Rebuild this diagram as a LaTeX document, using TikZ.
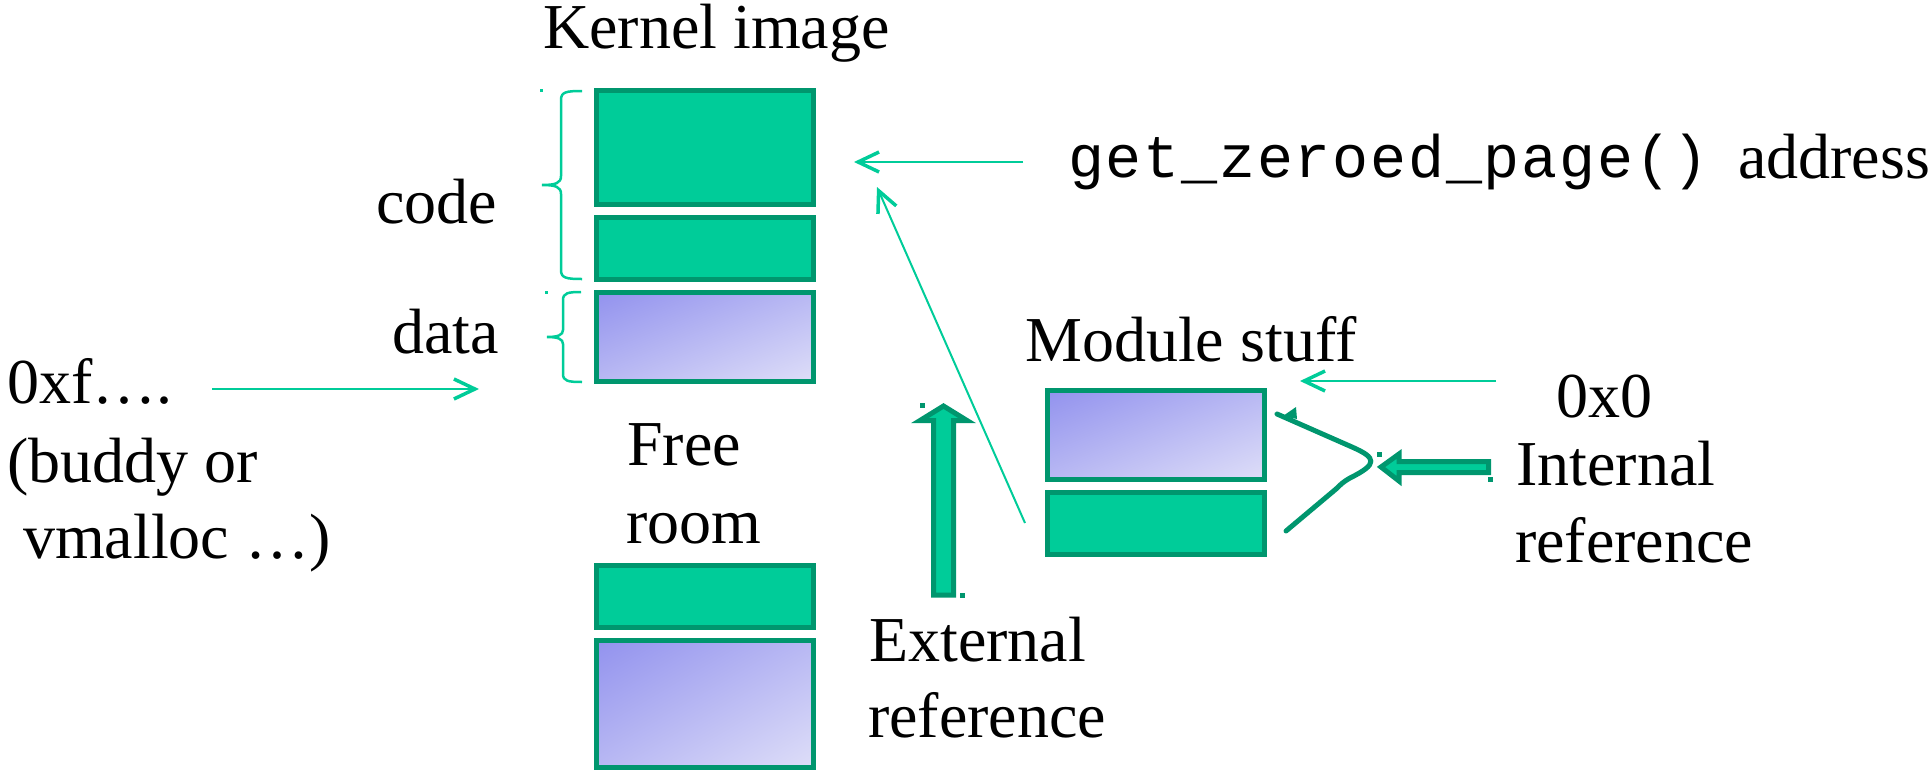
\documentclass[tikz,border=0pt]{standalone}
\usepackage{fontspec}
\setmainfont{Liberation Serif}
\newfontfamily\codefont[LetterSpace=3]{Liberation Mono}
\usetikzlibrary{arrows.meta,shadings}
\definecolor{gfill}{RGB}{0,204,153}
\definecolor{gdark}{RGB}{0,150,110}
\definecolor{gline}{RGB}{0,204,153}
\definecolor{bluA}{RGB}{146,146,238}
\definecolor{bluB}{RGB}{222,222,248}
\definecolor{bluM}{RGB}{184,184,243}
\begin{document}
\begin{tikzpicture}[x=1pt,y=-1pt,
  lbl/.style={anchor=base west, inner sep=0pt, font=\fontsize{64}{76}\selectfont},
  gbox/.style={draw=gdark, fill=gfill, line width=5pt, minimum width=217pt, inner sep=0pt},
  bbox/.style={draw=gdark, line width=5pt, minimum width=217pt, inner sep=0pt,
    upper left=bluA, lower right=bluB, upper right=bluM, lower left=bluM},
  thinarrow/.style={draw=gline, line width=2pt, -{Straight Barb[length=21pt,width=20pt,line width=3.5pt]}},
  bracepath/.style={draw=gline, line width=2.5pt},
  blockarrow/.style={draw=gdark, fill=gfill, line width=5pt, line join=miter},
  markdot/.style={fill=gdark},
  lightdot/.style={fill=gline}
]
\useasboundingbox (0,0) rectangle (1932,771);

% kernel image boxes
\node[gbox, minimum height=114pt] (k1) at (705,147.5) {};
\node[gbox, minimum height=62pt] (k2) at (705,248.5) {};
\node[bbox, minimum height=89pt] (k3) at (705,337) {};
\node[gbox, minimum height=62pt] (k4) at (705,596.5) {};
\node[bbox, minimum height=127pt] (k5) at (705,704) {};
% module boxes
\node[bbox, minimum height=89pt] (m1) at (1155.5,435) {};
\node[gbox, minimum height=62pt] (m2) at (1155.5,523.5) {};

% texts
\node[lbl] (kimg) at (543,48) {Kernel image};
\node[lbl] (code) at (376,223) {code};
\node[lbl] (data) at (392,353) {data};
\node[lbl] (oxf) at (7,403) {0xf….};
\node[lbl] (buddy) at (7,482) {(buddy or};
\node[lbl] (vmal) at (23,558) {vmalloc …)};
\node[lbl] (free) at (627,465) {Free};
\node[lbl] (room) at (626,543) {room};
\node[lbl] (ext) at (869,661) {External};
\node[lbl] (extref) at (868,737) {reference};
\node[lbl] (mod) at (1025,361) {Module stuff};
\node[lbl] (oxo) at (1556,417) {0x0};
\node[lbl] (int) at (1516,485) {Internal};
\node[lbl] (intref) at (1515,562) {reference};
\node[lbl, font={\codefont\fontsize{60}{70}\selectfont}] (gzp) at (1068,177) {get\_zeroed\_page()};
\node[lbl] (addr) at (1738,178) {address};

% thin arrows
\coordinate (a1s) at (212,389); \coordinate (a1e) at (479,389);
\coordinate (a2s) at (1023,162); \coordinate (a2e) at (854,162);
\coordinate (a3s) at (1025,523); \coordinate (a3e) at (877,187);
\coordinate (a4s) at (1496,381); \coordinate (a4e) at (1300,381);
\draw[thinarrow] (a1s) -- (a1e);
\draw[thinarrow] (a2s) -- (a2e);
\draw[thinarrow] (a3s) -- (a3e);
\draw[thinarrow] (a4s) -- (a4e);

% braces
\draw[bracepath] (582,91) .. controls (566,91) and (561,92) .. (561,100) -- (561,176)
  .. controls (561,183) and (556,185) .. (542,185)
  .. controls (556,185) and (561,187) .. (561,194) -- (561,270)
  .. controls (561,278) and (566,279) .. (582,279);
\draw[bracepath] (581,292) .. controls (568,292) and (563,293) .. (563,300) -- (563,330)
  .. controls (563,335) and (558,337) .. (547,337)
  .. controls (558,337) and (563,339) .. (563,344) -- (563,374)
  .. controls (563,381) and (568,382) .. (582,382);
\fill[lightdot] (540,89) rectangle +(3,3);
\fill[lightdot] (545,291) rectangle +(3,3);

% external reference block arrow
\draw[blockarrow] (933.5,595) -- (933.5,420.5) -- (920,420.5) -- (943.5,406) -- (967,420.5)
  -- (953.5,420.5) -- (953.5,595) -- cycle;
\fill[markdot] (920,403) rectangle +(5,5);
\fill[markdot] (960,593) rectangle +(5,5);

% internal reference block arrow
\draw[blockarrow] (1488.5,461.5) -- (1399,461.5) -- (1399,454) -- (1381,467) -- (1399,481)
  -- (1399,472.5) -- (1488.5,472.5) -- cycle;
\fill[markdot] (1377,452) rectangle +(5,5);
\fill[markdot] (1488,477) rectangle +(5,5);

% internal reference curve
\draw[gdark, line width=5pt, line cap=round, line join=round]
  (1277,414) -- (1352,447) .. controls (1377,458) and (1378,464) .. (1350,478)
  .. controls (1343,482) and (1340,485) .. (1336,489) -- (1286,531);
\fill[gdark] (1283,416) -- (1296,407) -- (1297,419) -- cycle;
\end{tikzpicture}
\end{document}
